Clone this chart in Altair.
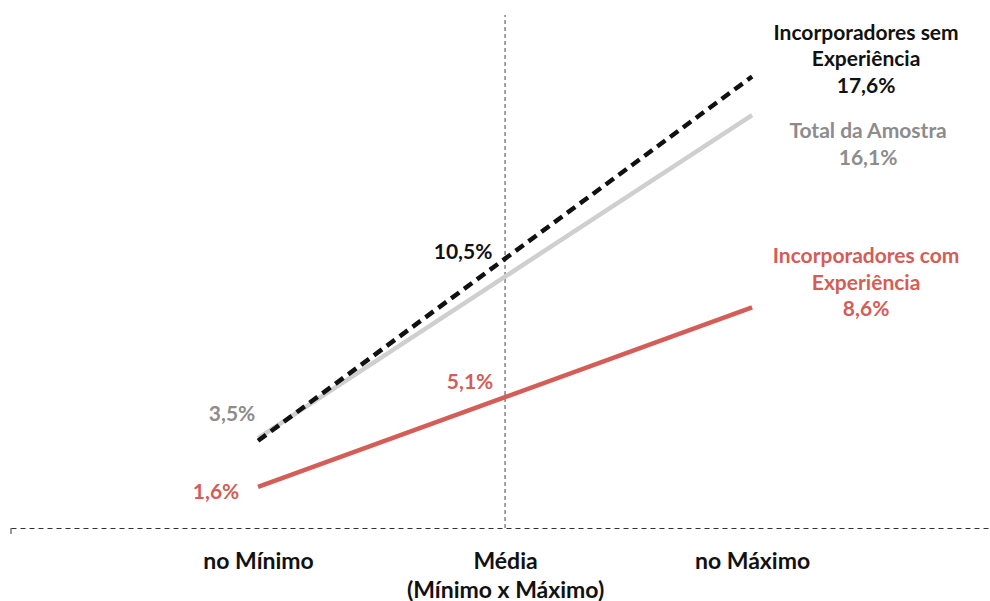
import altair as alt
import pandas as pd

# Category positions along the horizontal axis and their tick labels
positions = [0, 1, 2]
categories = ["no Mínimo", "Média|(Mínimo x Máximo)", "no Máximo"]

# Series values (%)
sem_exp = [3.4, 10.5, 17.6]
total = [3.5, 9.8, 16.1]
com_exp = [1.6, 5.1, 8.6]

series_names = ["Incorporadores sem\nExperiência", "Total da Amostra", "Incorporadores com\nExperiência"]

RED = "#D45D57"
GRAY_LINE = "#CFCFCF"
GRAY_TEXT = "#8C8C8C"
BLACK = "#111111"
FONT = "Lato"


def pct(v):
    return f"{v:.1f}".replace(".", ",") + "%"


def label_expr():
    parts = []
    for p, c in zip(positions, categories):
        lines = c.split("|")
        if len(lines) > 1:
            txt = "[" + ", ".join(f"'{s}'" for s in lines) + "]"
        else:
            txt = f"'{lines[0]}'"
        parts.append((p, txt))
    expr = "''"
    for p, txt in reversed(parts):
        expr = f"datum.value == {p} ? {txt} : ({expr})"
    return expr


xs = alt.Scale(domain=[-1, 2.955], nice=False, zero=False)
ys = alt.Scale(domain=[0, 20], nice=False, zero=False)
x_axis = alt.Axis(
    values=positions,
    labelExpr=label_expr(),
    title=None,
    ticks=False,
    grid=False,
    domainDash=[5, 4],
    domainColor="#333333",
    domainWidth=1,
    labelFont=FONT,
    labelFontSize=23,
    labelFontWeight="bold",
    labelColor=BLACK,
    labelPadding=33,
    labelLineHeight=29,
    labelBaseline="middle",
    labelLimit=500,
    labelOverlap=False,
)


def X(field="x"):
    return alt.X(f"{field}:Q", scale=xs, axis=x_axis)


def Y(field="y"):
    return alt.Y(f"{field}:Q", scale=ys, axis=None)


def series_df(vals):
    return pd.DataFrame({"x": positions, "y": vals})


gray_line = alt.Chart(series_df(total)).mark_line(
    color=GRAY_LINE, strokeWidth=4.5
).encode(x=X(), y=Y())

black_line = alt.Chart(series_df(sem_exp)).mark_line(
    color=BLACK, strokeWidth=4.5, strokeDash=[10, 6]
).encode(x=X(), y=Y())

red_line = alt.Chart(series_df(com_exp)).mark_line(
    color=RED, strokeWidth=4.5
).encode(x=X(), y=Y())

# Vertical dashed reference at the middle category
mid_rule = alt.Chart(pd.DataFrame({"x": [positions[1]], "y": [0], "y2": [20]})).mark_rule(
    color="#444444", strokeWidth=1, strokeDash=[4, 3]
).encode(x=X(), y=Y(), y2="y2:Q")

# Small end tick at the left of the baseline
end_tick = alt.Chart(pd.DataFrame({"x": [-1]})).mark_rule(
    color="#333333", strokeWidth=1
).encode(x=X(), y=alt.value(513), y2=alt.value(519))


def label(xv, yv, text, color, dx, dy, line_height=26.5):
    df = pd.DataFrame({"x": [xv], "y": [yv], "t": [text]})
    return alt.Chart(df).mark_text(
        font=FONT, fontSize=21, fontWeight="bold", color=color,
        align="center", baseline="middle", dx=dx, dy=dy,
        lineBreak="\n", lineHeight=line_height,
    ).encode(x=X(), y=Y(), text="t:N")


labels = [
    label(positions[0], total[0], pct(total[0]), GRAY_TEXT, -26, -23),
    label(positions[0], com_exp[0], pct(com_exp[0]), RED, -42, 6),
    label(positions[1], sem_exp[1], pct(sem_exp[1]), BLACK, -42, -6),
    label(positions[1], com_exp[1], pct(com_exp[1]), RED, -35, -14),
    label(positions[2], sem_exp[2], f"{series_names[0]}\n{pct(sem_exp[2])}", BLACK, 114, -43),
    label(positions[2], total[2], f"{series_names[1]}\n{pct(total[2])}", GRAY_TEXT, 116, 17),
    label(positions[2], com_exp[2], f"{series_names[2]}\n{pct(com_exp[2])}", RED, 114, -50),
]

chart = alt.layer(
    mid_rule, end_tick, gray_line, black_line, red_line, *labels
).properties(
    width=977,
    height=513,
    padding={"left": 11, "top": 15, "right": 2, "bottom": 73},
    autosize=alt.AutoSizeParams(type="none"),
    background="white",
).configure_view(stroke=None)

chart.save("out.html", embed_options={"renderer": "svg", "actions": False})
